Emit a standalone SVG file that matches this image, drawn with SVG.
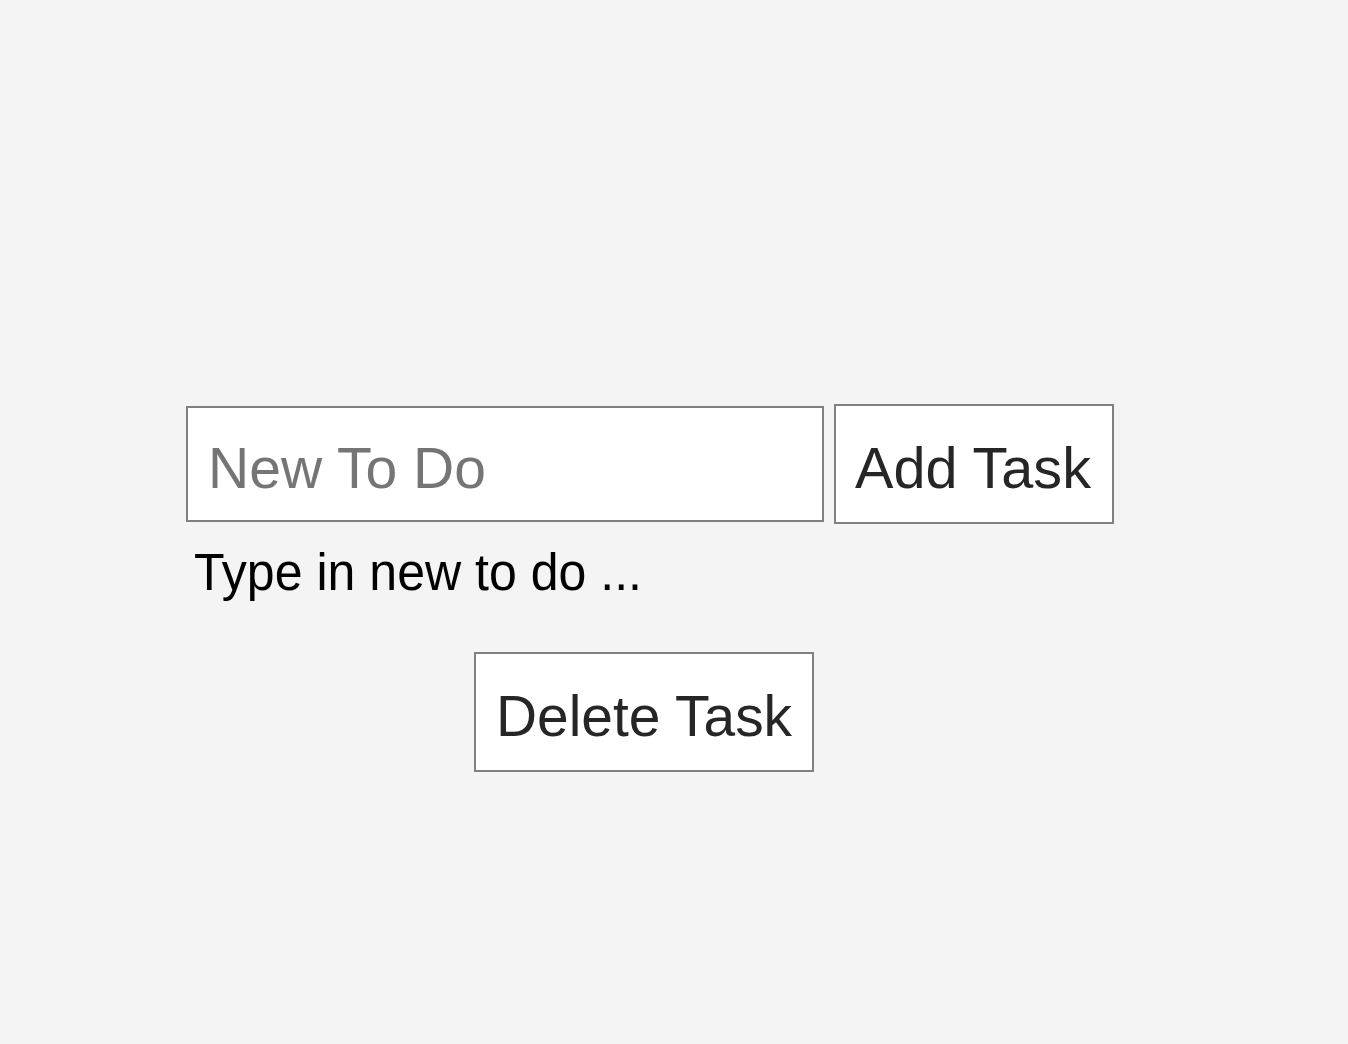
<svg xmlns="http://www.w3.org/2000/svg" width="1348" height="1044" viewBox="0 0 1348 1044">
<style>
.box{fill:#ffffff;stroke:#808080;stroke-width:2}
.t{font-family:"Liberation Sans",Arial,Helvetica,sans-serif}
.btn{font-size:58px;fill:#262626}
.ph{font-size:58px;fill:#757575}
.lbl{font-size:51px;fill:#000000}
</style>
<rect x="0" y="0" width="1348" height="1044" fill="#f4f4f4"/>
<g id="input">
<rect class="box" x="187" y="407" width="636" height="114"/>
<text class="t ph" x="208" y="488" textLength="278" lengthAdjust="spacingAndGlyphs">New To Do</text>
</g>
<g id="add-task">
<rect class="box" x="835" y="405" width="278" height="118"/>
<text class="t btn" x="855" y="488" textLength="236" lengthAdjust="spacingAndGlyphs">Add Task</text>
</g>
<g id="hint">
<text class="t lbl" x="194" y="590" textLength="448" lengthAdjust="spacingAndGlyphs">Type in new to do ...</text>
</g>
<g id="delete-task">
<rect class="box" x="475" y="653" width="338" height="118"/>
<text class="t btn" x="496" y="736" textLength="296" lengthAdjust="spacingAndGlyphs">Delete Task</text>
</g>
<g id="connectors"></g>
</svg>
